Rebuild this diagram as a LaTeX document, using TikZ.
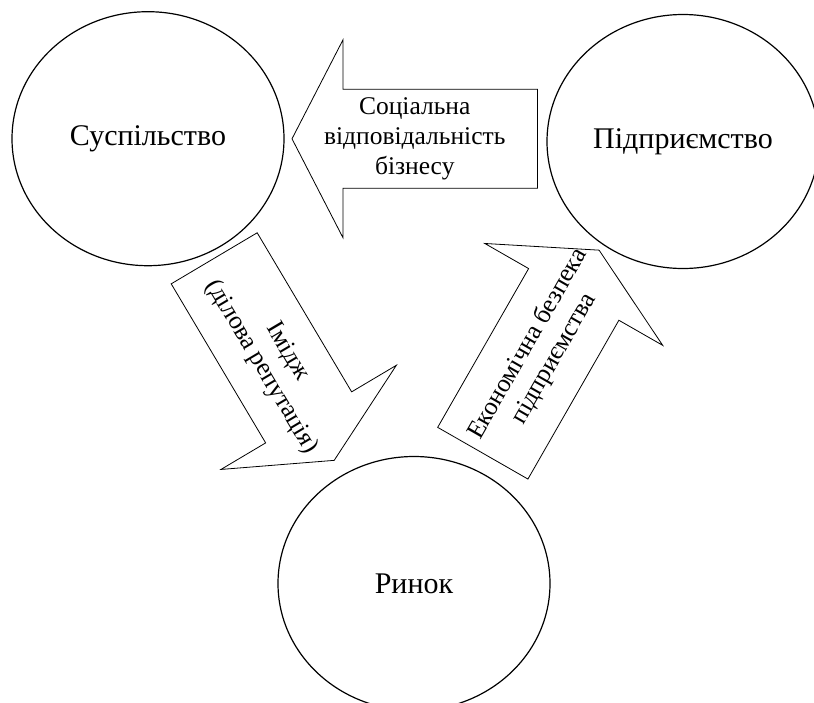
\documentclass[tikz,border=0pt]{standalone}
\usepackage{fontspec}
\setmainfont{Liberation Serif}
\usetikzlibrary{shapes.geometric,calc}
\begin{document}
\begin{tikzpicture}[x=1pt,y=-1pt,
  circ/.style={ellipse, draw, line width=1.2pt, inner sep=0pt, outer sep=0pt,
    minimum width=272pt, minimum height=254pt, font=\fontsize{30}{34}\selectfont},
  blockarrow/.style={draw, line width=0.8pt, fill=white, line join=miter},
  arrowtext/.style={font=\fontsize{25.5}{30}\selectfont, align=center, inner sep=0pt}]
\useasboundingbox (0,0) rectangle (814,702);

% circles
\node[circ] (soc) at (148,138.7) {Суспільство};
\node[circ] (ent) at (683,141.5) {Підприємство};
\node[circ] (mkt) at (414,583.5) {Ринок};

% arrow tails and tips
\coordinate (t1) at (537.5,138.8);
\coordinate (p1) at (292,138.8);
\coordinate (t2) at (214.2,258.3);
\coordinate (p2) at (334.2,460.5);
\coordinate (t3) at (482.8,453.2);
\coordinate (p3) at (599.2,250);

% top arrow: enterprise -> society
\begin{scope}[shift={(t1)}, rotate=180]
  \draw[blockarrow] (0,-49.5) -- (194.5,-49.5) -- (194.5,-99) -- (245.5,0)
    -- (194.5,99) -- (194.5,49.5) -- (0,49.5) -- cycle;
\end{scope}
% left arrow: society -> market
\begin{scope}[shift={(t2)}, rotate=-59.3]
  \draw[blockarrow] (0,-50) -- (185,-50) -- (185,-102) -- (235,0)
    -- (185,102) -- (185,50) -- (0,50) -- cycle;
\end{scope}
% right arrow: market -> enterprise
\begin{scope}[shift={(t3)}, rotate=60.2]
  \draw[blockarrow] (0,-52) -- (183,-52) -- (183,-102.5) -- (234,0)
    -- (183,102.5) -- (183,52) -- (0,52) -- cycle;
\end{scope}

% arrow texts
\node[arrowtext] (txt1) at ($(t1)!0.5!(p1)$) {Соціальна\\відповідальність\\бізнесу};
\node[arrowtext, rotate=-59.3] (txt2) at ($(t2)!0.5!(p2)$) {Імідж\\(ділова репутація)};
\node[arrowtext, rotate=60.2] (txt3) at ($(t3)!0.5!(p3)$) {Економічна безпека\\підприємства};
\end{tikzpicture}
\end{document}
